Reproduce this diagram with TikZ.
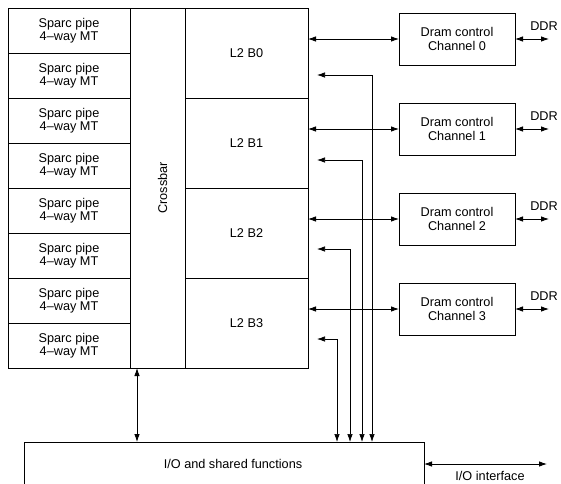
\documentclass[tikz,border=0pt]{standalone}
\usepackage{fontspec}
\setmainfont{Liberation Sans}
\usepackage{tikz}
\usetikzlibrary{arrows.meta, positioning}
\newcommand{\figfont}{\fontsize{12.7}{13.5}\selectfont}

\begin{document}
\begin{tikzpicture}[
    x=1pt, y=-1pt,
    cell/.style={draw, line width=0.8pt, outer sep=0pt, inner sep=0pt, align=center, font=\figfont},
    pipe/.style={cell, minimum width=122pt, minimum height=45pt},
    bank/.style={cell, minimum width=123pt, minimum height=90pt},
    dramnode/.style={cell, minimum width=116pt, minimum height=52pt},
    link/.style={{Latex[length=8pt,width=5.5pt]}-{Latex[length=8pt,width=5.5pt]}, line width=0.8pt},
    buslink/.style={link, line width=0.7pt},
    note/.style={font=\figfont, inner sep=0pt}
]
    \useasboundingbox (0,0) rectangle (561,483);

    % --- Cores ---
    \node (sp1) [pipe] at (69,30.5) {Sparc pipe\\4–way MT};
    \foreach \i [evaluate=\i as \j using int(\i-1)] in {2,...,8}
        \node (sp\i) [pipe, below=0pt of sp\j] {Sparc pipe\\4–way MT};

    % --- Crossbar ---
    \node (xbar) [cell, minimum width=55pt, minimum height=360pt, anchor=north west] at (sp1.north east) {};
    \node (xbar_label) [note, rotate=90] at ([xshift=5pt]xbar.center) {Crossbar};

    % --- L2 banks ---
    \node (l2b0) [bank, anchor=north west] at (xbar.north east) {L2 B0};
    \foreach \i [evaluate=\i as \j using int(\i-1)] in {1,2,3}
        \node (l2b\i) [bank, below=0pt of l2b\j] {L2 B\i};

    % --- Dram controllers ---
    \node (dram0) [dramnode] at (457,39) {Dram control\\Channel 0};
    \foreach \i [evaluate=\i as \j using int(\i-1)] in {1,2,3}
        \node (dram\i) [dramnode, below=38pt of dram\j] {Dram control\\Channel \i};

    % --- I/O block ---
    \node (io) [cell, minimum width=400pt, minimum height=44pt, anchor=north,
        label={[note, xshift=9pt]center:I/O and shared functions}] at (224,442) {};

    % --- Connections ---
    \foreach \i in {0,...,3} {
        \draw [link] (l2b\i.east |- dram\i.west) -- (dram\i.west);
        \coordinate (ddr\i) at ([xshift=34pt]dram\i.east);
        \draw [link] (dram\i.east) -- (ddr\i);
        \node (ddr_label\i) [note, anchor=base] at ([xshift=-5pt,yshift=9pt]ddr\i) {DDR};
    }

    \foreach \i/\y/\x in {0/75/372, 1/160/362, 2/249/350, 3/339/337} {
        \coordinate (tap\i) at (317,\y);
        \draw [buslink] (tap\i) -| (io.north -| \x,0);
    }

    \draw [link] ([xshift=7pt]xbar.south west) -- ([xshift=7pt]xbar.south west |- io.north);

    \coordinate (ioif) at ([xshift=123pt]io.east);
    \draw [link] (io.east) -- (ioif);
    \node (ioif_label) [note, anchor=base] at (490,480) {I/O interface};

\end{tikzpicture}
\end{document}
